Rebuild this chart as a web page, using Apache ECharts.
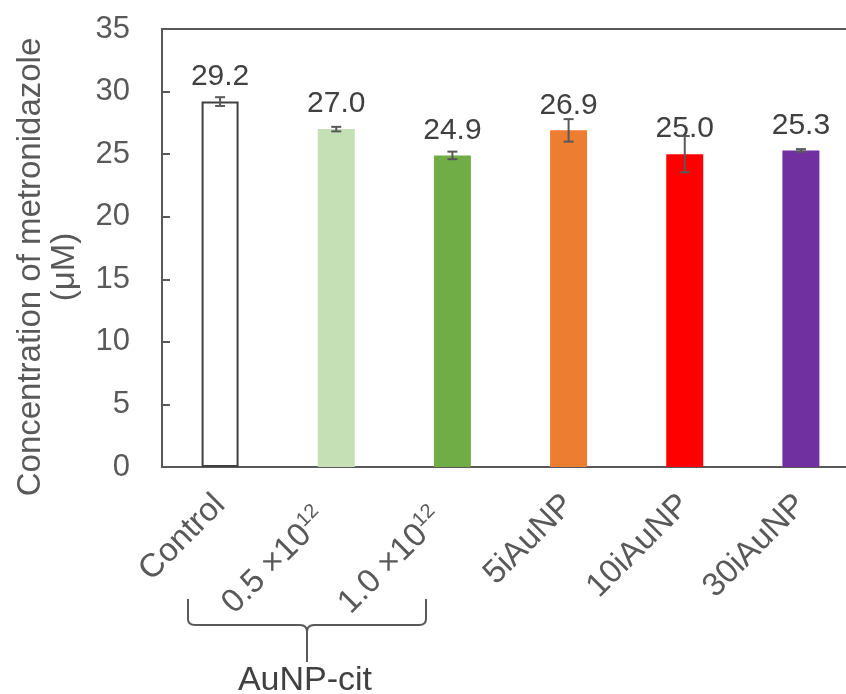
<!DOCTYPE html>
<html>
<head>
<meta charset="utf-8">
<script src="https://cdn.jsdelivr.net/npm/echarts@6/dist/echarts.min.js"></script>
<style>
html,body{margin:0;padding:0;background:#fff;overflow:hidden;}
#chart{width:860px;height:694px;}
</style>
</head>
<body>
<div id="chart"></div>
<script>
const categories = ['Control', '0.5 ×10¹²', '1.0 ×10¹²', '5iAuNP', '10iAuNP', '30iAuNP'];
const values = [29.2, 27.0, 24.9, 26.9, 25.0, 25.3];
const errors = [0.35, 0.18, 0.3, 0.9, 1.45, 0.1];
const barColors = ['#FFFFFF', '#C5E0B4', '#70AD47', '#ED7D31', '#FF0000', '#7030A0'];
const yTicks = [0, 5, 10, 15, 20, 25, 30, 35];
const groupLabel = 'AuNP-cit';
const yTitle = 'Concentration of metronidazole\n(μM)';

const FONT = 'Liberation Sans, Arial, sans-serif';
const chart = echarts.init(document.getElementById('chart'));

const barData = values.map((v, i) => ({
  value: v,
  itemStyle: i === 0
    ? { color: barColors[i], borderColor: '#404040', borderWidth: 2 }
    : { color: barColors[i] }
}));
const errData = values.map((v, i) => [i, v - errors[i], v + errors[i]]);

const braceStyle = { stroke: '#595959', lineWidth: 2, fill: null };
function L(x1, y1, x2, y2) { return { type: 'line', shape: { x1, y1, x2, y2 }, style: braceStyle, silent: true }; }
function Q(x1, y1, cx, cy, x2, y2) { return { type: 'bezierCurve', shape: { x1, y1, x2, y2, cpx1: cx, cpy1: cy }, style: braceStyle, silent: true }; }

chart.setOption({
  animation: false,
  backgroundColor: '#fff',
  grid: { left: 162, top: 29, width: 697, height: 438 },
  xAxis: [{
    type: 'category',
    data: categories,
    axisLine: { lineStyle: { color: '#595959', width: 2 } },
    axisTick: { show: false },
    axisLabel: {
      rotate: 45,
      margin: 33,
      interval: 0,
      color: '#595959',
      fontFamily: FONT,
      fontSize: 33,
      formatter: function (v) {
        if (v.indexOf('¹²') >= 0) return '{n|' + v.replace('¹²', '') + '}{s|12}';
        return '{n|' + v + '}';
      },
      rich: {
        n: { fontSize: 33, fontFamily: FONT, color: '#595959', lineHeight: 38 },
        s: { fontSize: 20, fontFamily: FONT, color: '#595959', verticalAlign: 'top', lineHeight: 38, padding: [0, 20, 0, 0] }
      }
    }
  }, {
    type: 'category',
    data: categories,
    position: 'top',
    axisLine: { lineStyle: { color: '#595959', width: 2 } },
    axisTick: { show: false },
    axisLabel: { show: false }
  }],
  yAxis: {
    type: 'value',
    min: 0, max: 35, interval: 5,
    splitLine: { show: false },
    axisLine: { show: true, lineStyle: { color: '#595959', width: 2 } },
    axisTick: { show: true, inside: true, length: 8, lineStyle: { color: '#595959', width: 2 } },
    axisLabel: {
      color: '#595959', fontFamily: FONT, fontSize: 31, margin: 32,
      formatter: function (v) { return yTicks.indexOf(v) >= 0 ? String(v) : ''; }
    }
  },
  series: [
    {
      type: 'bar',
      data: barData,
      barWidth: 37,
      label: {
        show: true, position: 'top', distance: 10,
        color: '#404040', fontFamily: FONT, fontSize: 30,
        formatter: function (p) { return p.value.toFixed(1); }
      },
      z: 2
    },
    {
      type: 'custom',
      data: errData,
      encode: { x: 0, y: [1, 2] },
      z: 10,
      renderItem: function (params, api) {
        const x = api.value(0);
        const lo = api.coord([x, api.value(1)]);
        const hi = api.coord([x, api.value(2)]);
        const w = 5;
        const style = { stroke: '#595959', lineWidth: 2 };
        return {
          type: 'group',
          children: [
            { type: 'line', shape: { x1: hi[0], y1: hi[1], x2: lo[0], y2: lo[1] }, style: style },
            { type: 'line', shape: { x1: hi[0] - w, y1: hi[1], x2: hi[0] + w, y2: hi[1] }, style: style },
            { type: 'line', shape: { x1: lo[0] - w, y1: lo[1], x2: lo[0] + w, y2: lo[1] }, style: style }
          ]
        };
      }
    }
  ],
  graphic: [
    {
      type: 'text',
      x: 48, y: 267,
      rotation: Math.PI / 2,
      style: {
        text: yTitle,
        fill: '#595959',
        font: '33px ' + FONT,
        textAlign: 'center',
        textVerticalAlign: 'middle',
        lineHeight: 34
      }
    },
    L(188, 599, 188, 619),
    Q(188, 619, 188, 625, 195, 625),
    L(195, 625, 300, 625),
    Q(300, 625, 307, 625, 307, 632),
    Q(314, 625, 307, 625, 307, 632),
    L(307, 632, 307, 662),
    L(314, 625, 419, 625),
    Q(419, 625, 426, 625, 426, 619),
    L(426, 619, 426, 599),
    {
      type: 'text',
      x: 305, y: 681,
      style: {
        text: groupLabel,
        fill: '#404040',
        font: '34px ' + FONT,
        textAlign: 'center',
        textVerticalAlign: 'middle'
      }
    }
  ]
});
</script>
</body>
</html>
